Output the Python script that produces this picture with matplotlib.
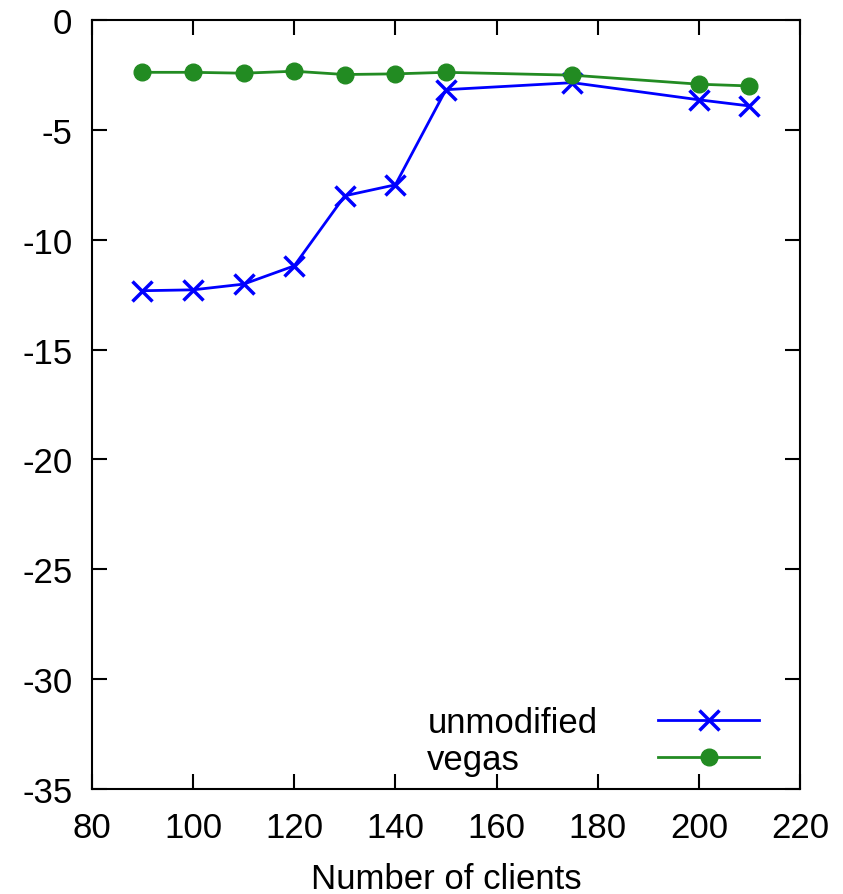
import matplotlib
matplotlib.use("Agg")
import matplotlib.pyplot as plt

# values
clients = [90, 100, 110, 120, 130, 140, 150, 175, 200, 210]
unmodified = [-12.32, -12.28, -12.02, -11.19, -8.0, -7.5, -3.17, -2.85, -3.63, -3.91]
vegas = [-2.38, -2.38, -2.42, -2.33, -2.48, -2.45, -2.38, -2.51, -2.92, -3.0]

xticks = [80, 100, 120, 140, 160, 180, 200, 220]
yticks = [0, -5, -10, -15, -20, -25, -30, -35]

plt.rcParams["font.family"] = ["Liberation Sans", "DejaVu Sans"]
plt.rcParams["font.size"] = 25
plt.rcParams["axes.unicode_minus"] = False

fig = plt.figure(figsize=(8.43, 8.95), dpi=100)
ax = fig.add_axes([0.109, 0.1173, 0.84, 0.8592])

ax.plot(clients, unmodified, color="#0000ff", lw=2, marker="x", ms=14, mew=2.5,
        label="unmodified")
ax.plot(clients, vegas, color="#228b22", lw=2, marker="o", ms=12,
        label="vegas")

ax.set_xlim(80, 220)
ax.set_ylim(-35, 0)
ax.set_xticks(xticks)
ax.set_yticks(yticks)
ax.tick_params(direction="in", length=11, width=1.5, top=True, right=True)
ax.tick_params(axis="x", pad=16)
ax.tick_params(axis="y", pad=14)
for s in ax.spines.values():
    s.set_linewidth(1.5)

ax.set_xlabel("Number of clients", labelpad=13)

leg = ax.legend(loc="lower right", bbox_to_anchor=(0.942, 0.017), frameon=False,
                markerfirst=False, handlelength=2.9, handletextpad=1.75,
                borderpad=0, borderaxespad=0, labelspacing=0.12)

# gnuplot keeps the key text left-aligned: stretch each row to the widest one
fig.canvas.draw()
renderer = fig.canvas.get_renderer()
rows = leg._legend_handle_box.get_children()[0].get_children()
w = max(r.get_bbox(renderer).width for r in rows)
for r in rows:
    r.mode = "expand"
    r.width = w

fig.savefig("out.png", dpi=100)
